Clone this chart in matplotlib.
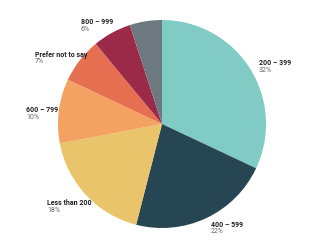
import matplotlib
matplotlib.use("Agg")
import matplotlib.pyplot as plt
import numpy as np

categories = ["200 – 399", "400 – 599", "Less than 200", "600 – 799",
              "Prefer not to say", "800 – 999", "1000 or more"]
values = [32, 22, 18, 10, 7, 6, 5]
show_label = [True, True, True, True, True, True, False]
colors = ["#80CBC4", "#264653", "#E9C46A", "#F4A261", "#E76F51", "#9B2948", "#6C7A80"]

# label block top-left positions, in units of pie radius
label_pos = [(0.930, 0.623), (0.468, -0.929), (-1.106, -0.721), (-1.308, 0.173),
             (-1.221, 0.705), (-0.782, 1.017), (0, 0)]

plt.rcParams['font.family'] = ['Roboto', 'DejaVu Sans']

fig = plt.figure(figsize=(3.2, 2.5), dpi=100)
ax = fig.add_axes([0.18125, 0.088, 0.65, 0.832])
wedges, _ = ax.pie(values, colors=colors, startangle=90, counterclock=False,
                   radius=1, wedgeprops=dict(linewidth=0))
ax.set_xlim(-1, 1)
ax.set_ylim(-1, 1)
ax.set_aspect('equal')
ax.axis('off')

total = sum(values)
for name, v, show, (x, y) in zip(categories, values, show_label, label_pos):
    if not show:
        continue
    t = ax.text(x, y, name, fontsize=5, fontweight='bold', color='#222222',
                ha='left', va='top', clip_on=False, zorder=5)
    ax.annotate(f"{round(100 * v / total)}%", xy=(0, 0), xycoords=t,
                xytext=(0, 0.3), textcoords='offset points',
                fontsize=5, color='#666666', ha='left', va='top', zorder=5)

fig.savefig("out.png", dpi=100)
